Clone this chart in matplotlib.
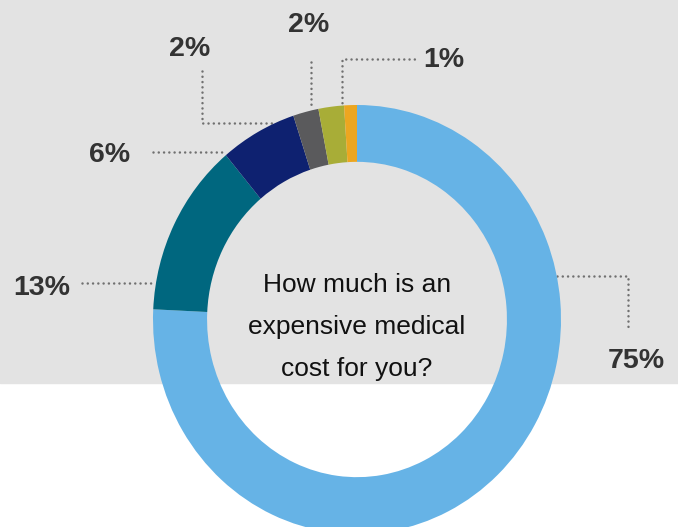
import matplotlib.pyplot as plt

# survey shares, clockwise from 12 o'clock
shares = [75, 13, 6, 2, 2, 1]
labels = ['75%', '13%', '6%', '2%', '2%', '1%']
colors = ['#66b3e6', '#00677f', '#0e2170', '#5a5a5c', '#a8ad37', '#eca620']
question = 'How much is an\nexpensive medical\ncost for you?'

W, H = 678, 527
plt.rcParams['font.family'] = ['Liberation Sans', 'DejaVu Sans']

fig = plt.figure(figsize=(W / 100, H / 100), dpi=100)
fig.patch.set_facecolor('white')

# backdrop axes in pixel units (y down)
bg = fig.add_axes([0, 0, 1, 1])
bg.set_xlim(0, W)
bg.set_ylim(H, 0)
bg.axis('off')
bg.axhspan(0, 383, color='#e3e3e3', zorder=0)

# donut, slightly taller than wide
cx, cy, rx, ry = 357, 319.5, 204, 214.5
pax = fig.add_axes([(cx - rx) / W, (H - cy - ry) / H, 2 * rx / W, 2 * ry / H])
pax.pie(shares, colors=colors, startangle=90, counterclock=False,
        radius=1, wedgeprops=dict(width=0.265, linewidth=0))
pax.set_aspect('auto')
pax.set_xlim(-1, 1)
pax.set_ylim(-1, 1)
pax.axis('off')
pax.text(0, -0.035, question, ha='center', va='center', fontsize=19,
         color='#111111', linespacing=1.95)

# leader lines (pixel layout) and label anchors
leaders = [
    [(557, 275.5), (628, 275.5), (628, 329)],
    [(82, 283), (153, 283)],
    [(153, 152), (225, 152)],
    [(202, 71), (202, 122.5), (273, 122.5)],
    [(311, 62), (311, 108)],
    [(342, 108), (342, 58.5), (418, 58.5)],
]
label_xy = [(636, 361), (42, 288), (110, 155), (190, 49), (309, 25), (444, 60)]

dot = dict(color='#707070', linewidth=1.8, linestyle=(0, (0.01, 2.1)),
           dash_capstyle='round', solid_capstyle='round')
for pts in leaders:
    xs, ys = zip(*pts)
    bg.plot(xs, ys, **dot, zorder=1)
for (x, y), lab in zip(label_xy, labels):
    bg.text(x, y, lab, ha='center', va='center', fontsize=20.5,
            fontweight='bold', color='#333333')

# leader lines must sit above the ring where they touch it
bg.set_zorder(0)
pax.set_zorder(1)
fig.savefig('out.png', dpi=100)
